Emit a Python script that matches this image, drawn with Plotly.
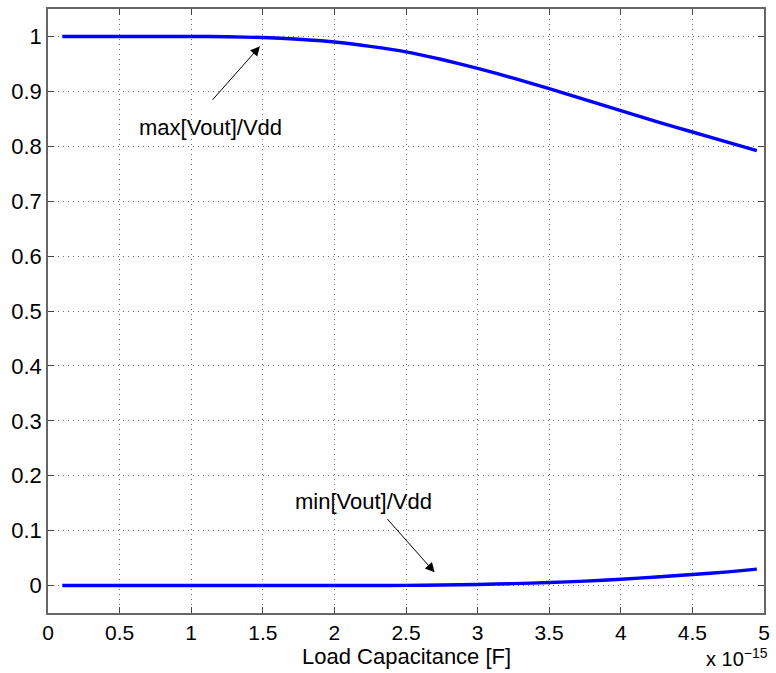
import plotly.graph_objects as go

# Load capacitance in units of 1e-15 F
cap = [0.1, 0.5, 1.0, 1.25, 1.5, 1.75, 2.0, 2.25, 2.5, 2.75, 3.0, 3.25, 3.5, 3.75, 4.0, 4.25, 4.5, 4.75, 4.95]
max_vout = [1.0, 1.0, 1.0, 0.9995, 0.998, 0.995, 0.990, 0.982, 0.972, 0.958, 0.942, 0.924, 0.905, 0.885, 0.865, 0.845, 0.826, 0.807, 0.792]
min_vout = [0.0, 0.0, 0.0, 0.0, 0.0, 0.0, 0.0, 0.0001, 0.0003, 0.001, 0.002, 0.0035, 0.0055, 0.008, 0.0115, 0.0155, 0.020, 0.025, 0.030]

x_ticks = [0, 0.5, 1, 1.5, 2, 2.5, 3, 3.5, 4, 4.5, 5]
x_tick_labels = ["0", "0.5", "1", "1.5", "2", "2.5", "3", "3.5", "4", "4.5", "5"]
y_ticks = [0, 0.1, 0.2, 0.3, 0.4, 0.5, 0.6, 0.7, 0.8, 0.9, 1]
y_tick_labels = ["0", "0.1", "0.2", "0.3", "0.4", "0.5", "0.6", "0.7", "0.8", "0.9", "1"]

FONT = "Liberation Sans, Arial, Helvetica, sans-serif"
BLUE = "#0000FF"
FS = 22

fig = go.Figure()
fig.add_trace(go.Scatter(x=cap, y=max_vout, mode="lines", line=dict(color=BLUE, width=3.4, shape="spline", smoothing=0.6), showlegend=False))
fig.add_trace(go.Scatter(x=cap, y=min_vout, mode="lines", line=dict(color=BLUE, width=3.4, shape="spline", smoothing=0.6), showlegend=False))

axis_common = dict(
    showgrid=True, gridcolor="#6e6e6e", griddash="1px,4px", gridwidth=1,
    showline=True, linecolor="#666666", linewidth=1.5, mirror="ticks",
    ticks="inside", ticklen=6, tickcolor="#444444", tickwidth=1,
    zeroline=False,
)

fig.update_xaxes(range=[0, 5], tickvals=x_ticks, ticktext=x_tick_labels,
                 ticklabelstandoff=0, tickfont=dict(family=FONT, size=21, color="black"), **axis_common)
fig.update_yaxes(range=[-0.05, 1.05], tickvals=y_ticks, ticktext=y_tick_labels,
                 ticklabelstandoff=0, tickfont=dict(family=FONT, size=FS, color="black"), **axis_common)

# x-axis title
fig.add_annotation(x=0.5, y=-0.0712, xref="paper", yref="paper", xanchor="center", yanchor="middle",
                   text="Load Capacitance [F]", showarrow=False,
                   font=dict(family=FONT, size=FS, color="black"))

# annotations
fig.add_annotation(x=1.48, y=0.982, ax=1.14, ay=0.882, xref="x", yref="y", axref="x", ayref="y",
                   text="", showarrow=True, arrowhead=2, arrowsize=1.9, arrowwidth=1, arrowcolor="black")
fig.add_annotation(x=1.136, y=0.835, xref="x", yref="y", text="max[Vout]/Vdd", showarrow=False,
                   font=dict(family=FONT, size=FS, color="black"))
fig.add_annotation(x=2.70, y=0.024, ax=2.36, ay=0.124, xref="x", yref="y", axref="x", ayref="y",
                   text="", showarrow=True, arrowhead=2, arrowsize=1.9, arrowwidth=1, arrowcolor="black")
fig.add_annotation(x=2.20, y=0.1527, xref="x", yref="y", text="min[Vout]/Vdd", showarrow=False,
                   font=dict(family=FONT, size=FS, color="black"))
fig.add_annotation(x=1.0, y=-0.0977, xref="paper", yref="paper", xanchor="right", yanchor="bottom",
                   xshift=6, text="x 10<sup>\u221215</sup>", showarrow=False,
                   font=dict(family=FONT, size=20, color="black"))

fig.update_layout(
    width=776, height=673,
    margin=dict(l=48, r=6, t=9, b=60),
    plot_bgcolor="white", paper_bgcolor="white",
)

fig.write_html("out.html")
